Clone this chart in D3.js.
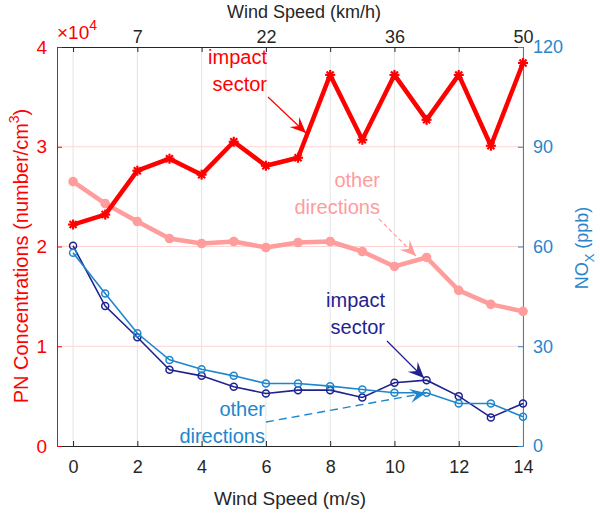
<!DOCTYPE html>
<html><head><meta charset="utf-8">
<script src="https://cdn.jsdelivr.net/npm/d3@7"></script>
<style>body{margin:0;background:#fff}text{font-family:"Liberation Sans",Arial,sans-serif}</style>
</head><body><svg id="c" width="600" height="514"></svg>
<script>
// Data
const windSpeed = [0,1,2,3,4,5,6,7,8,9,10,11,12,13,14];
const pnImpact = [2.22,2.32,2.76,2.88,2.72,3.05,2.81,2.89,3.72,3.07,3.72,3.27,3.72,3.01,3.84]; // x10^4
const pnOther  = [2.65,2.43,2.25,2.08,2.03,2.05,1.99,2.04,2.05,1.95,1.80,1.89,1.56,1.42,1.35];
const noxImpact = [60.2,42.1,32.7,22.9,21.1,17.8,15.8,16.8,16.8,14.6,19.0,19.8,15.0,8.6,12.8];
const noxOther  = [58.1,45.9,33.9,25.9,23.1,21.1,18.8,18.8,18.0,17.0,16.0,16.0,12.8,12.8,8.8];
const bottomTicks = [0,2,4,6,8,10,12,14];
const topTickLabels = {2:"7",6:"22",10:"36",14:"50"};
const leftTicks = [0,1,2,3,4];
const rightTicks = [0,30,60,90,120];

const RED="#ff0000", PINK="#ff9c9c", NAVY="#1f2390", BLUE="#1e86cc", AXB="#2a86cc";
const svg = d3.select("#c");
const L=57,R=523,T=47,B=446;
const x = d3.scaleLinear().domain([-0.5,14]).range([L,R]);
const yL = d3.scaleLinear().domain([0,4]).range([B,T]);
const yR = d3.scaleLinear().domain([0,120]).range([B,T]);

// grid
svg.append("g").selectAll("line").data(bottomTicks).join("line")
  .attr("x1",d=>x(d)).attr("x2",d=>x(d)).attr("y1",T).attr("y2",B)
  .attr("stroke","#e4e4e4").attr("stroke-width",1);
svg.append("g").selectAll("line").data([1,2,3]).join("line")
  .attr("x1",L).attr("x2",R).attr("y1",d=>yL(d)).attr("y2",d=>yL(d))
  .attr("stroke","#ffd4d4").attr("stroke-width",1);

// axes
const font = g=>g.selectAll("text").style("font-family","Liberation Sans, Arial, sans-serif");
const gB = svg.append("g").attr("transform",`translate(0,${B})`)
  .call(d3.axisBottom(x).tickValues(bottomTicks).tickSizeInner(-5).tickSizeOuter(0).tickPadding(14));
gB.select(".domain").attr("stroke","#262626");
gB.selectAll(".tick line").attr("stroke","#262626");
gB.selectAll("text").attr("fill","#262626").style("font-size","18px");
const gT = svg.append("g").attr("transform",`translate(0,${T})`)
  .call(d3.axisTop(x).tickValues(bottomTicks).tickSizeInner(-5).tickSizeOuter(0).tickPadding(4)
    .tickFormat(d=>topTickLabels[d]||""));
gT.select(".domain").attr("stroke","#262626");
gT.selectAll(".tick line").attr("stroke","#262626");
gT.selectAll("text").attr("fill","#262626").style("font-size","18px");
const gL = svg.append("g").attr("transform",`translate(${L},0)`)
  .call(d3.axisLeft(yL).tickValues(leftTicks).tickSizeInner(-5).tickSizeOuter(0).tickPadding(10).tickFormat(d3.format("d")));
gL.select(".domain").attr("stroke",RED);
gL.selectAll(".tick line").attr("stroke",RED);
gL.selectAll("text").attr("fill",RED).style("font-size","19px");
const gR = svg.append("g").attr("transform",`translate(${R},0)`)
  .call(d3.axisRight(yR).tickValues(rightTicks).tickSizeInner(-5).tickSizeOuter(0).tickPadding(10));
gR.select(".domain").attr("stroke",AXB);
gR.selectAll(".tick line").attr("stroke",AXB);
gR.selectAll("text").attr("fill",AXB).style("font-size","18px");
[gB,gT,gL,gR].forEach(font);

// exponent
const ex = svg.append("text").attr("x",L).attr("y",39).attr("fill",RED).style("font-size","19px");
ex.append("tspan").text("\u00d710");
ex.append("tspan").attr("dy",-9).style("font-size","14px").text("4");

// axis titles
svg.append("text").attr("x",304).attr("y",18).attr("text-anchor","middle").attr("fill","#262626")
  .style("font-size","18px").text("Wind Speed (km/h)");
svg.append("text").attr("x",290).attr("y",505).attr("text-anchor","middle").attr("fill","#262626")
  .style("font-size","19px").text("Wind Speed (m/s)");
const ll = svg.append("text").attr("transform","translate(28,256) rotate(-90)").attr("text-anchor","middle")
  .attr("fill",RED).style("font-size","20px");
ll.append("tspan").text("PN Concentrations (number/cm");
ll.append("tspan").attr("dy",-9).style("font-size","14px").text("3");
ll.append("tspan").attr("dy",9).text(")");
const rl = svg.append("text").attr("transform","translate(588,248) rotate(-90)").attr("text-anchor","middle")
  .attr("fill",AXB).style("font-size","18px");
rl.append("tspan").text("NO");
rl.append("tspan").attr("dy",6).style("font-size","13px").text("X");
rl.append("tspan").attr("dy",-6).text(" (ppb)");

// series
const lineL = vals => d3.line().x((d,i)=>x(windSpeed[i])).y(d=>yL(d))(vals);
const lineR = vals => d3.line().x((d,i)=>x(windSpeed[i])).y(d=>yR(d))(vals);

svg.append("path").attr("d",lineL(pnOther)).attr("fill","none").attr("stroke",PINK).attr("stroke-width",4.5).attr("stroke-linejoin","round");
svg.append("g").selectAll("circle").data(pnOther).join("circle")
  .attr("cx",(d,i)=>x(windSpeed[i])).attr("cy",d=>yL(d)).attr("r",4.8).attr("fill",PINK);

svg.append("path").attr("d",lineL(pnImpact)).attr("fill","none").attr("stroke",RED).attr("stroke-width",4.5).attr("stroke-linejoin","round");
const ast = svg.append("g");
pnImpact.forEach((d,i)=>{
  const cx=x(windSpeed[i]), cy=yL(d), s=5;
  [[-s,0,s,0],[0,-s,0,s],[-s*0.7,-s*0.7,s*0.7,s*0.7],[-s*0.7,s*0.7,s*0.7,-s*0.7]].forEach(a=>{
    ast.append("line").attr("x1",cx+a[0]).attr("y1",cy+a[1]).attr("x2",cx+a[2]).attr("y2",cy+a[3])
      .attr("stroke",RED).attr("stroke-width",2.2);
  });
});

svg.append("path").attr("d",lineR(noxImpact)).attr("fill","none").attr("stroke",NAVY).attr("stroke-width",1.6);
svg.append("g").selectAll("circle").data(noxImpact).join("circle")
  .attr("cx",(d,i)=>x(windSpeed[i])).attr("cy",d=>yR(d)).attr("r",3.5).attr("fill","none").attr("stroke",NAVY).attr("stroke-width",1.5);
svg.append("path").attr("d",lineR(noxOther)).attr("fill","none").attr("stroke",BLUE).attr("stroke-width",1.6);
svg.append("g").selectAll("circle").data(noxOther).join("circle")
  .attr("cx",(d,i)=>x(windSpeed[i])).attr("cy",d=>yR(d)).attr("r",3.5).attr("fill","none").attr("stroke",BLUE).attr("stroke-width",1.5);

// annotations
function arrow(x1,y1,x2,y2,color,dash,w){
  svg.append("line").attr("x1",x1).attr("y1",y1).attr("x2",x2).attr("y2",y2)
    .attr("stroke",color).attr("stroke-width",w||1).attr("stroke-dasharray",dash||null);
  const a=Math.atan2(y2-y1,x2-x1), len=16, wd=7, notch=10;
  const ux=Math.cos(a), uy=Math.sin(a), px=-uy, py=ux;
  const p=[[x2,y2],[x2-ux*len+px*wd,y2-uy*len+py*wd],[x2-ux*notch,y2-uy*notch],[x2-ux*len-px*wd,y2-uy*len-py*wd]];
  svg.append("path").attr("d","M"+p.map(q=>q.join(",")).join("L")+"Z").attr("fill",color);
}
function label(xr,y,lines,color){
  lines.forEach((t,i)=>svg.append("text").attr("x",xr).attr("y",y+i*26.5).attr("text-anchor","end")
    .attr("fill",color).style("font-size","20px").text(t));
}
label(267,64,["impact","sector"],RED);
arrow(268,97,306,133,RED,null,1.2);
label(380,187,["other","directions"],PINK);
arrow(379,219,416,256,PINK,"4,3",1.2);
label(385,307,["impact","sector"],NAVY);
arrow(387,341,424,378,NAVY,null,1.2);
label(265,416,["other","directions"],BLUE);
arrow(266,422,426,393,BLUE,"8,5",1.4);
</script></body></html>
